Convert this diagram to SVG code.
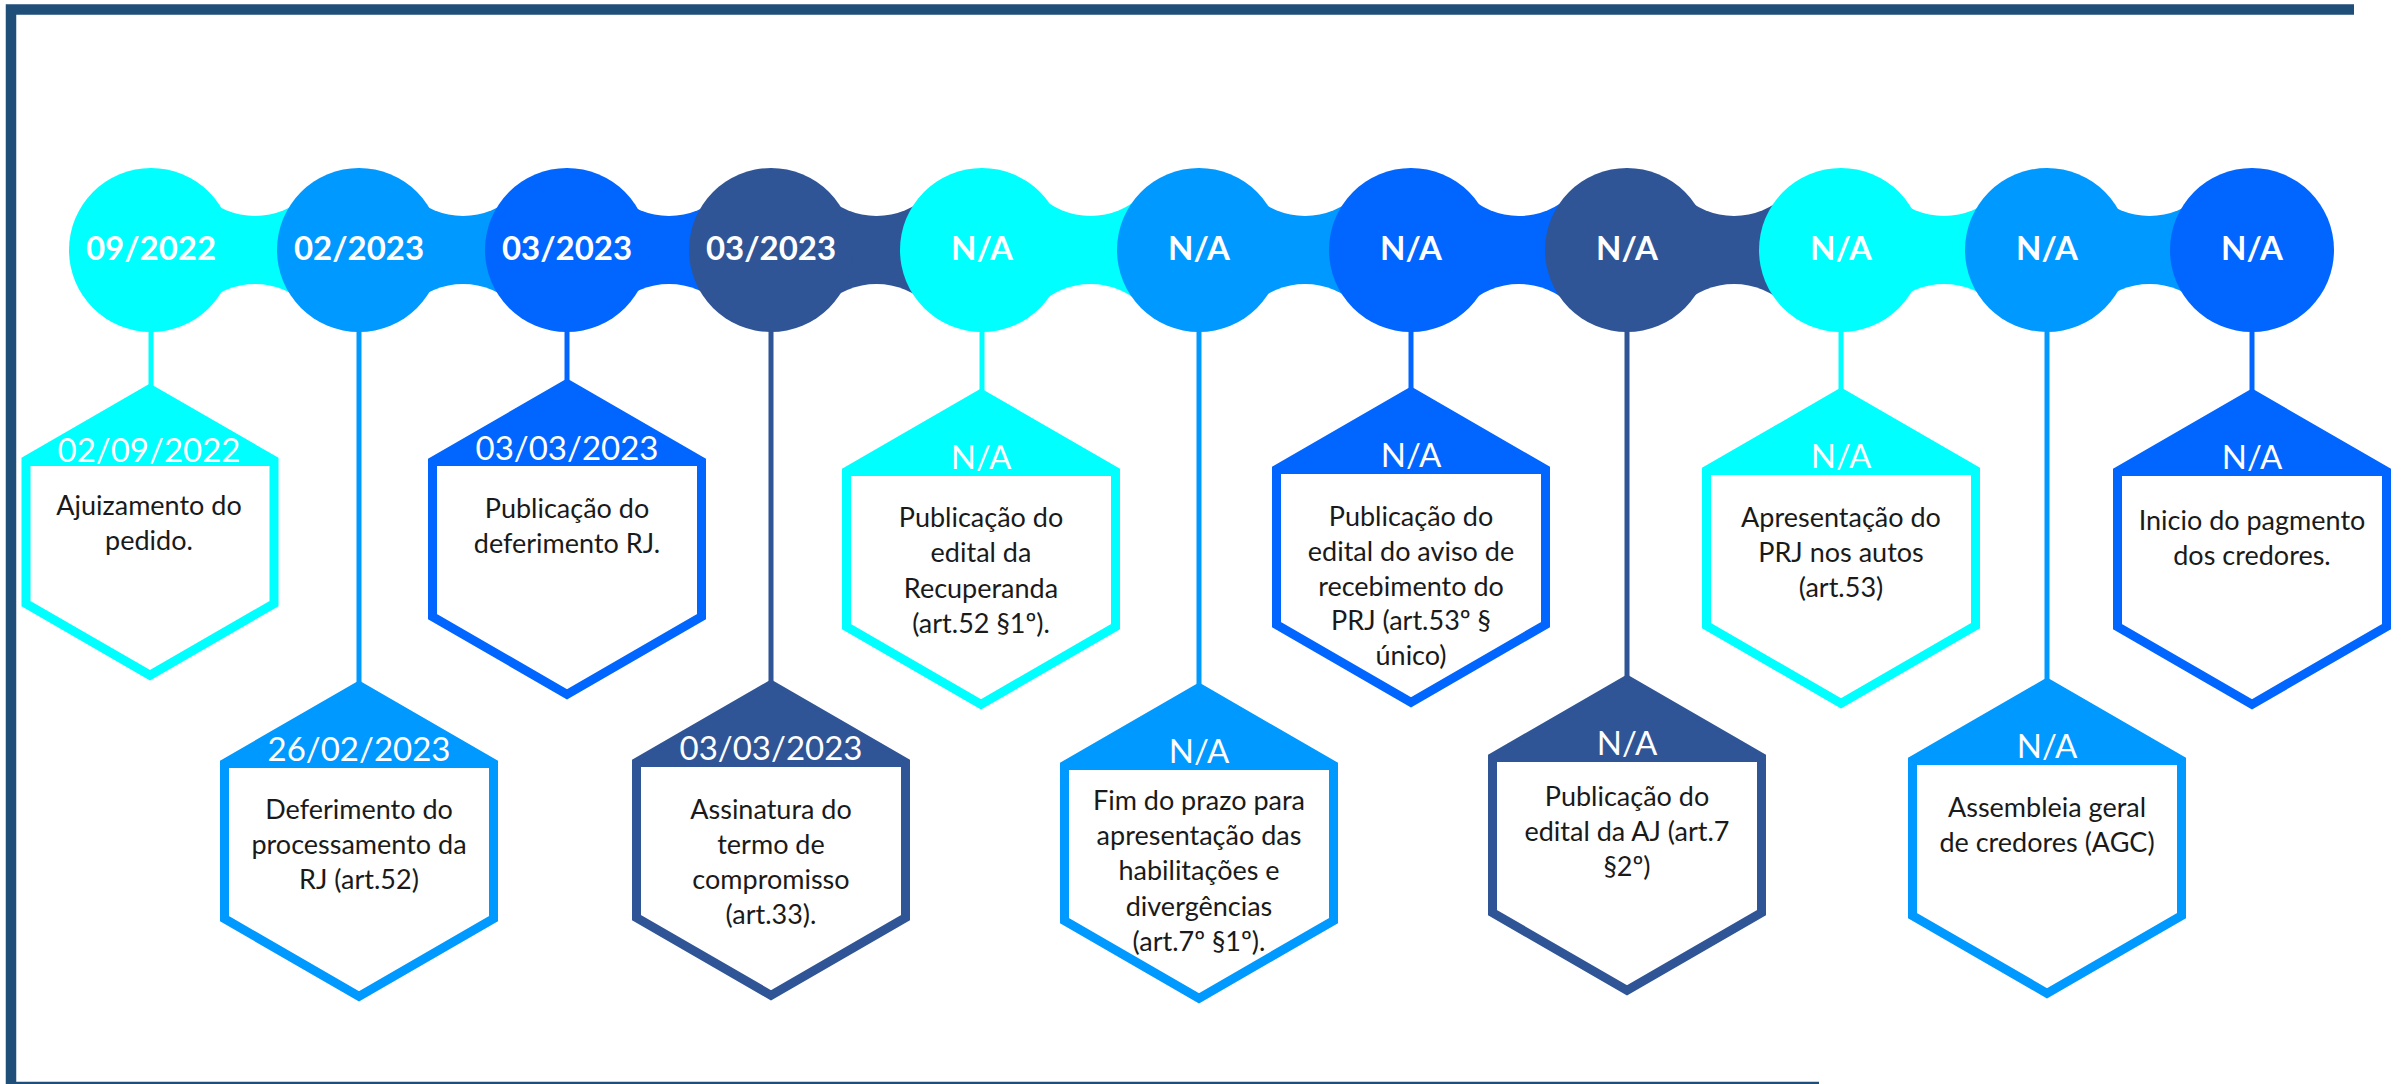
<svg xmlns="http://www.w3.org/2000/svg" xmlns:xlink="http://www.w3.org/1999/xlink" width="2402" height="1084" viewBox="0 0 2402 1084">
<style>
.f1{fill:#00FFFF}.f2{fill:#0099FF}.f3{fill:#0066FF}.f4{fill:#2F5597}
.s1{stroke:#00FFFF}.s2{stroke:#0099FF}.s3{stroke:#0066FF}.s4{stroke:#2F5597}
.frame{fill:none;stroke:#1F4E79;stroke-width:10.5}
.stem{stroke-width:5;fill:none}
.hex{fill:#FFFFFF;stroke-width:9;stroke-linejoin:miter}
.lbl{font-family:Lato,"Liberation Sans",sans-serif;font-weight:700;font-size:33px;fill:#FFFFFF;text-anchor:middle}
.hdr{font-family:Lato,"Liberation Sans",sans-serif;font-size:33px;fill:#FFFFFF;text-anchor:middle}
.body{font-family:Lato,"Liberation Sans",sans-serif;font-size:27px;fill:#1A1A1A;text-anchor:middle}
</style>
<defs>
<path id="hex" d="M0,-155.3 L134.5,-77.65 L134.5,77.65 L0,155.3 L-134.5,77.65 L-134.5,-77.65 Z"/>
<path id="cap" d="M0,-155.3 L134.5,-77.65 L134.5,-73 L-134.5,-73 L-134.5,-77.65 Z"/>
<path id="hexS" d="M0,-143.2 L124,-71.6 L124,71.6 L0,143.2 L-124,71.6 L-124,-71.6 Z"/>
<path id="capS" d="M0,-143.2 L124,-71.6 L124,-66 L-124,-66 L-124,-71.6 Z"/>
<mask id="bites" maskUnits="userSpaceOnUse" x="0" y="0" width="2402" height="1084">
<rect x="0" y="0" width="2402" height="1084" fill="#FFFFFF"/>
<circle cx="255" cy="141" r="75" fill="#000"/><circle cx="255" cy="359" r="75" fill="#000"/>
<circle cx="463" cy="141" r="75" fill="#000"/><circle cx="463" cy="359" r="75" fill="#000"/>
<circle cx="669" cy="141" r="75" fill="#000"/><circle cx="669" cy="359" r="75" fill="#000"/>
<circle cx="876.5" cy="141" r="75" fill="#000"/><circle cx="876.5" cy="359" r="75" fill="#000"/>
<circle cx="1090.5" cy="141" r="75" fill="#000"/><circle cx="1090.5" cy="359" r="75" fill="#000"/>
<circle cx="1305" cy="141" r="75" fill="#000"/><circle cx="1305" cy="359" r="75" fill="#000"/>
<circle cx="1519" cy="141" r="75" fill="#000"/><circle cx="1519" cy="359" r="75" fill="#000"/>
<circle cx="1734" cy="141" r="75" fill="#000"/><circle cx="1734" cy="359" r="75" fill="#000"/>
<circle cx="1944" cy="141" r="75" fill="#000"/><circle cx="1944" cy="359" r="75" fill="#000"/>
<circle cx="2149.5" cy="141" r="75" fill="#000"/><circle cx="2149.5" cy="359" r="75" fill="#000"/>
</mask>
</defs>

<g id="frame">
<path class="frame" d="M2354,9.5 H11 V1087 H1819"/>
</g>

<g id="connectors">
<g mask="url(#bites)">
<rect class="f1" x="151" y="190" width="208" height="120"/>
<rect class="f2" x="359" y="190" width="208" height="120"/>
<rect class="f3" x="567" y="190" width="204" height="120"/>
<rect class="f4" x="771" y="190" width="211" height="120"/>
<rect class="f1" x="982" y="190" width="217" height="120"/>
<rect class="f2" x="1199" y="190" width="212" height="120"/>
<rect class="f3" x="1411" y="190" width="216" height="120"/>
<rect class="f4" x="1627" y="190" width="214" height="120"/>
<rect class="f1" x="1841" y="190" width="206" height="120"/>
<rect class="f2" x="2047" y="190" width="205" height="120"/>
</g>
<line class="stem s1" x1="151" y1="320" x2="151" y2="389"/>
<line class="stem s2" x1="359" y1="320" x2="359" y2="686"/>
<line class="stem s3" x1="567" y1="320" x2="567" y2="384"/>
<line class="stem s4" x1="771" y1="320" x2="771" y2="685"/>
<line class="stem s1" x1="982" y1="320" x2="982" y2="394"/>
<line class="stem s2" x1="1199" y1="320" x2="1199" y2="688"/>
<line class="stem s3" x1="1411" y1="320" x2="1411" y2="392"/>
<line class="stem s4" x1="1627" y1="320" x2="1627" y2="680"/>
<line class="stem s1" x1="1841" y1="320" x2="1841" y2="393"/>
<line class="stem s2" x1="2047" y1="320" x2="2047" y2="683"/>
<line class="stem s3" x1="2252" y1="320" x2="2252" y2="394"/>
</g>

<g id="node-1">
<circle class="f1" cx="151" cy="250" r="82"/>
<text class="lbl" x="151" y="260">09/2022</text>
<use href="#hexS" class="hex s1" transform="translate(150,532)"/>
<use href="#capS" class="f1" transform="translate(150,532)"/>
<text class="hdr" x="149" y="462">02/09/2022</text>
<text class="body" x="149" y="515">Ajuizamento do<tspan x="149" dy="35">pedido.</tspan></text>
</g>

<g id="node-2">
<circle class="f2" cx="359" cy="250" r="82"/>
<text class="lbl" x="359" y="260">02/2023</text>
<use href="#hex" class="hex s2" transform="translate(359,841)"/>
<use href="#cap" class="f2" transform="translate(359,841)"/>
<text class="hdr" x="359" y="761">26/02/2023</text>
<text class="body" x="359" y="819">Deferimento do<tspan x="359" dy="35">processamento da</tspan><tspan x="359" dy="35">RJ (art.52)</tspan></text>
</g>

<g id="node-3">
<circle class="f3" cx="567" cy="250" r="82"/>
<text class="lbl" x="567" y="260">03/2023</text>
<use href="#hex" class="hex s3" transform="translate(567,539)"/>
<use href="#cap" class="f3" transform="translate(567,539)"/>
<text class="hdr" x="567" y="460">03/03/2023</text>
<text class="body" x="567" y="518">Publicação do<tspan x="567" dy="35">deferimento RJ.</tspan></text>
</g>

<g id="node-4">
<circle class="f4" cx="771" cy="250" r="82"/>
<text class="lbl" x="771" y="260">03/2023</text>
<use href="#hex" class="hex s4" transform="translate(771,840)"/>
<use href="#cap" class="f4" transform="translate(771,840)"/>
<text class="hdr" x="771" y="760">03/03/2023</text>
<text class="body" x="771" y="819">Assinatura do<tspan x="771" dy="35">termo de</tspan><tspan x="771" dy="35">compromisso</tspan><tspan x="771" dy="35">(art.33).</tspan></text>
</g>

<g id="node-5">
<circle class="f1" cx="982" cy="250" r="82"/>
<text class="lbl" x="982" y="260">N/A</text>
<use href="#hex" class="hex s1" transform="translate(981,549)"/>
<use href="#cap" class="f1" transform="translate(981,549)"/>
<text class="hdr" x="981" y="469">N/A</text>
<text class="body" x="981" y="527">Publicação do<tspan x="981" dy="35.3">edital da</tspan><tspan x="981" dy="35.3">Recuperanda</tspan><tspan x="981" dy="35.3">(art.52 §1º).</tspan></text>
</g>

<g id="node-6">
<circle class="f2" cx="1199" cy="250" r="82"/>
<text class="lbl" x="1199" y="260">N/A</text>
<use href="#hex" class="hex s2" transform="translate(1199,843)"/>
<use href="#cap" class="f2" transform="translate(1199,843)"/>
<text class="hdr" x="1199" y="763">N/A</text>
<text class="body" x="1199" y="810">Fim do prazo para<tspan x="1199" dy="35.2">apresentação das</tspan><tspan x="1199" dy="35.2">habilitações e</tspan><tspan x="1199" dy="35.2">divergências</tspan><tspan x="1199" dy="35.2">(art.7º §1º).</tspan></text>
</g>

<g id="node-7">
<circle class="f3" cx="1411" cy="250" r="82"/>
<text class="lbl" x="1411" y="260">N/A</text>
<use href="#hex" class="hex s3" transform="translate(1411,547)"/>
<use href="#cap" class="f3" transform="translate(1411,547)"/>
<text class="hdr" x="1411" y="467">N/A</text>
<text class="body" x="1411" y="526">Publicação do<tspan x="1411" dy="34.8">edital do aviso de</tspan><tspan x="1411" dy="34.8">recebimento do</tspan><tspan x="1411" dy="34.8">PRJ (art.53º §</tspan><tspan x="1411" dy="34.8">único)</tspan></text>
</g>

<g id="node-8">
<circle class="f4" cx="1627" cy="250" r="82"/>
<text class="lbl" x="1627" y="260">N/A</text>
<use href="#hex" class="hex s4" transform="translate(1627,835)"/>
<use href="#cap" class="f4" transform="translate(1627,835)"/>
<text class="hdr" x="1627" y="755">N/A</text>
<text class="body" x="1627" y="806">Publicação do<tspan x="1627" dy="35">edital da AJ (art.7</tspan><tspan x="1627" dy="35">§2º)</tspan></text>
</g>

<g id="node-9">
<circle class="f1" cx="1841" cy="250" r="82"/>
<text class="lbl" x="1841" y="260">N/A</text>
<use href="#hex" class="hex s1" transform="translate(1841,548)"/>
<use href="#cap" class="f1" transform="translate(1841,548)"/>
<text class="hdr" x="1841" y="468">N/A</text>
<text class="body" x="1841" y="527">Apresentação do<tspan x="1841" dy="35">PRJ nos autos</tspan><tspan x="1841" dy="35">(art.53)</tspan></text>
</g>

<g id="node-10">
<circle class="f2" cx="2047" cy="250" r="82"/>
<text class="lbl" x="2047" y="260">N/A</text>
<use href="#hex" class="hex s2" transform="translate(2047,838)"/>
<use href="#cap" class="f2" transform="translate(2047,838)"/>
<text class="hdr" x="2047" y="758">N/A</text>
<text class="body" x="2047" y="817">Assembleia geral<tspan x="2047" dy="35">de credores (AGC)</tspan></text>
</g>

<g id="node-11">
<circle class="f3" cx="2252" cy="250" r="82"/>
<text class="lbl" x="2252" y="260">N/A</text>
<use href="#hex" class="hex s3" transform="translate(2252,549)"/>
<use href="#cap" class="f3" transform="translate(2252,549)"/>
<text class="hdr" x="2252" y="469">N/A</text>
<text class="body" x="2252" y="530">Inicio do pagmento<tspan x="2252" dy="35">dos credores.</tspan></text>
</g>
</svg>
